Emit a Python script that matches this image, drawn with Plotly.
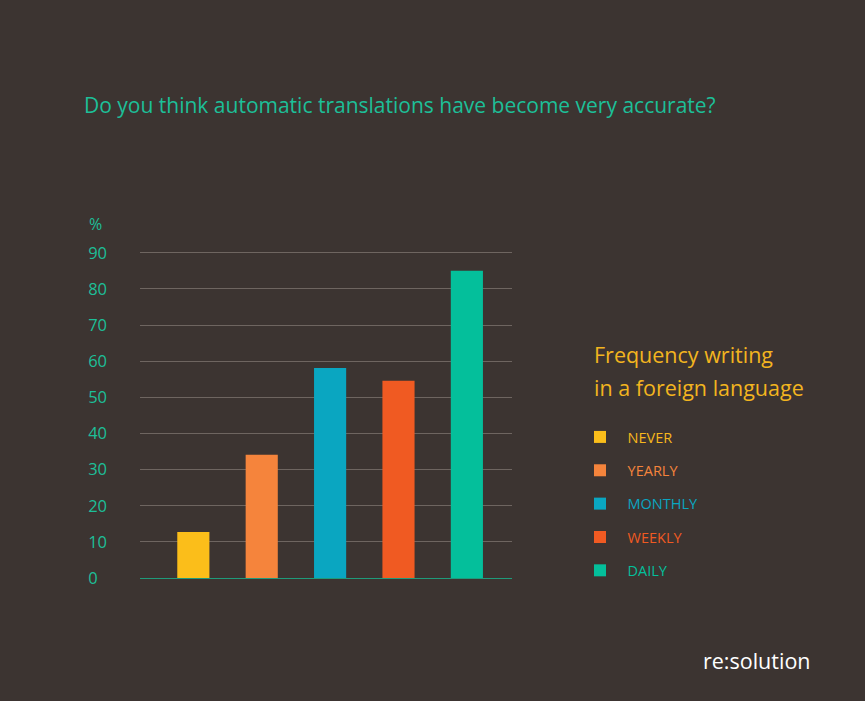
import plotly.graph_objects as go

categories = ["NEVER", "YEARLY", "MONTHLY", "WEEKLY", "DAILY"]
values = [12.7, 34.1, 58.1, 54.6, 85.0]
colors = ["#FBBE1A", "#F5843C", "#0AA6C1", "#F05A22", "#04BF9B"]
text_colors = ["#F7B81C", "#F5843C", "#0AA6C1", "#F05A22", "#04BF9B"]
y_ticks = [0, 10, 20, 30, 40, 50, 60, 70, 80, 90]

BG = "#3C3431"
TEAL = "#1DBF98"
FONT = "'Open Sans', 'Noto Sans', sans-serif"

fig = go.Figure()
for i, (cat, val, col, tcol) in enumerate(zip(categories, values, colors, text_colors)):
    fig.add_trace(go.Bar(
        x=[i], y=[val], width=0.47,
        marker=dict(color=col, line=dict(width=0)),
        name=f"\u00a0\u00a0<span style='color:{tcol}'>{cat}</span>",
        legendgroup=cat,
        hoverinfo="skip",
    ))

fig.update_layout(
    width=865, height=701,
    paper_bgcolor=BG, plot_bgcolor=BG,
    margin=dict(l=140, r=353, t=251, b=123),
    font=dict(family=FONT, color=TEAL),
    title=dict(
        text="Do you think automatic translations have become very accurate?",
        x=84 / 865, xanchor="left", xref="container",
        y=1 - 106 / 701, yanchor="middle",
        font=dict(family=FONT, size=21, color=TEAL),
    ),
    xaxis=dict(range=[-0.78, 4.66], showticklabels=False, showgrid=False,
               zeroline=False, showline=False, fixedrange=True),
    yaxis=dict(range=[0, 90.5], tickvals=y_ticks,
               ticktext=[("0\u2007" if v == 0 else str(v)) for v in y_ticks],
               showgrid=True, gridcolor="#6E6560", gridwidth=1,
               zeroline=True, zerolinecolor="#1F9A7A", zerolinewidth=1,
               showline=False, ticks="", ticklabelstandoff=32,
               tickfont=dict(family=FONT, size=16.5, color=TEAL)),
    showlegend=True,
    legend=dict(
        x=(580 - 140) / 372, xanchor="left",
        y=(578 - 421) / 327, yanchor="top",
        traceorder="grouped", tracegroupgap=11.5,
        bgcolor="rgba(0,0,0,0)",
        font=dict(family=FONT, size=14.5),
        itemclick=False, itemdoubleclick=False,
    ),
    bargap=0.5,
)

fig.add_annotation(text="%", xref="paper", yref="paper",
                   x=(87 - 140) / 372, y=(578 - 224) / 327,
                   xanchor="left", yanchor="middle", showarrow=False,
                   font=dict(family=FONT, size=16, color=TEAL))
fig.add_annotation(text="Frequency writing", xref="paper", yref="paper",
                   x=(592 - 140) / 372, y=(578 - 354) / 327,
                   xanchor="left", yanchor="middle", showarrow=False,
                   font=dict(family=FONT, size=21.5, color="#F3B51F"))
fig.add_annotation(text="in a foreign language", xref="paper", yref="paper",
                   x=(592 - 140) / 372, y=(578 - 387) / 327,
                   xanchor="left", yanchor="middle", showarrow=False,
                   font=dict(family=FONT, size=21.5, color="#F3B51F"))
fig.add_annotation(text="re:solution", xref="paper", yref="paper",
                   x=(813 - 140) / 372, y=(578 - 660) / 327,
                   xanchor="right", yanchor="middle", showarrow=False,
                   font=dict(family=FONT, size=21.5, color="#FFFFFF"))

fig.write_html("out.html", config={"displayModeBar": False},
               post_script="document.body.style.margin='0';document.body.style.background='%s';" % BG)
